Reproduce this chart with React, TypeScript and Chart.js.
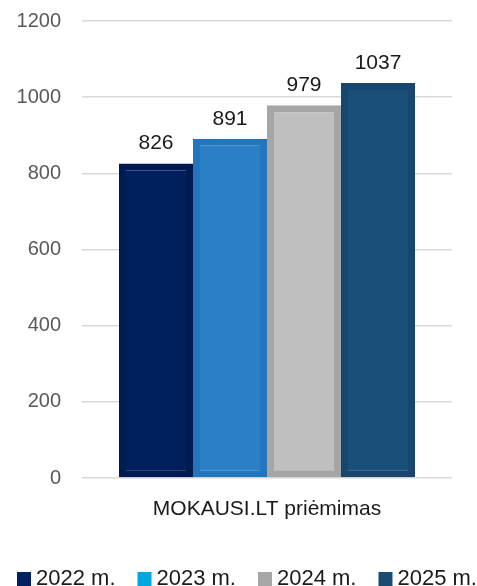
import React, { useEffect, useRef } from "react";
import { Chart, registerables } from "chart.js";

Chart.register(...registerables);

const categories = ["MOKAUSI.LT priėmimas"];
const seriesNames = ["2022 m.", "2023 m.", "2024 m.", "2025 m."];
const seriesValues = [[826], [891], [979], [1037]];
const barFills = ["#001F5C", "#2A7FC6", "#BFBFBF", "#1A4F7A"];
const barBorders = ["#001A52", "#2476BC", "#A6A6A6", "#17466E"];
const legendColors = ["#002060", "#00A6DE", "#A6A6A6", "#1B4A72"];
const yTicks = [0, 200, 400, 600, 800, 1000, 1200];

const FONT = "'Liberation Sans', Arial, sans-serif";

const valueLabels = {
  id: "valueLabels",
  afterDatasetsDraw(chart: any) {
    const ctx = chart.ctx;
    ctx.save();
    ctx.font = `21px ${FONT}`;
    ctx.fillStyle = "#1a1a1a";
    ctx.textAlign = "center";
    ctx.textBaseline = "alphabetic";
    chart.data.datasets.forEach((ds: any, i: number) => {
      const meta = chart.getDatasetMeta(i);
      meta.data.forEach((el: any, j: number) => {
        ctx.fillText(String(ds.data[j]), el.x, el.y - 14);
      });
    });
    ctx.restore();
  },
};

const bottomLegend = {
  id: "bottomLegend",
  afterDraw(chart: any) {
    const ctx = chart.ctx;
    ctx.save();
    ctx.font = `22px ${FONT}`;
    ctx.textBaseline = "alphabetic";
    ctx.textAlign = "left";
    const box = 14;
    const gap = 5;
    const itemGap = 22;
    let x = 17;
    const baseline = 585;
    chart.data.datasets.forEach((ds: any, i: number) => {
      ctx.fillStyle = legendColors[i];
      ctx.fillRect(x, baseline - 13, box, box);
      ctx.fillStyle = "#1a1a1a";
      const tx = x + box + gap;
      ctx.fillText(ds.label, tx, baseline);
      x = tx + ctx.measureText(ds.label).width + itemGap;
    });
    ctx.restore();
  },
};

export default function App() {
  const ref = useRef<HTMLCanvasElement>(null);
  useEffect(() => {
    document.body.style.margin = "0";
    const chart = new Chart(ref.current!, {
      type: "bar",
      data: {
        labels: categories,
        datasets: seriesNames.map((name, i) => ({
          label: name,
          data: seriesValues[i],
          backgroundColor: barFills[i],
          borderColor: barBorders[i],
          borderWidth: 7,
          borderSkipped: false,
          categoryPercentage: 0.8,
          barPercentage: 1.0,
        })),
      },
      options: {
        animation: false,
        responsive: false,
        maintainAspectRatio: false,
        layout: { padding: { top: 21, right: 25, left: 0, bottom: 0 } },
        scales: {
          x: {
            grid: { display: false },
            border: { display: false },
            ticks: { color: "#1a1a1a", font: { family: FONT, size: 21 }, padding: 11 },
            afterFit(scale: any) {
              scale.height = 108;
            },
          },
          y: {
            min: 0,
            max: 1200,
            afterBuildTicks(axis: any) {
              axis.ticks = yTicks.map((v) => ({ value: v }));
            },
            afterFit(scale: any) {
              scale.width = 82;
              scale.paddingTop = 0;
              scale.paddingBottom = 0;
            },
            grid: { color: "#D9D9D9", lineWidth: 1.5, drawTicks: false },
            border: { display: false },
            ticks: {
              color: "#595959",
              font: { family: FONT, size: 20 },
              padding: 21,
              callback: (v: any) => String(v),
            },
          },
        },
        plugins: {
          tooltip: { enabled: false },
          legend: { display: false },
        },
      },
      plugins: [valueLabels, bottomLegend],
    });
    return () => chart.destroy();
  }, []);
  return (
    <div style={{ width: 477, height: 586 }}>
      <canvas ref={ref} width={477} height={586} style={{ display: "block" }} />
    </div>
  );
}
